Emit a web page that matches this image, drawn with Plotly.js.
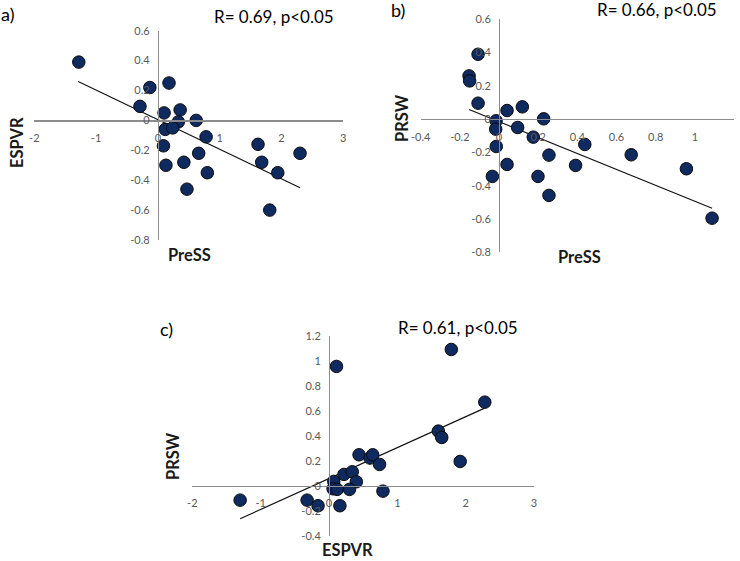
<!DOCTYPE html>
<html><head><meta charset="utf-8">
<script src="https://cdn.plot.ly/plotly-3.0.1.min.js"></script>
<style>html,body{margin:0;padding:0;background:#fff}#chart{width:740px;height:561px}</style>
</head><body><div id="chart"></div>
<script>
// Panel a: PreSS vs ESPVR
const aPreSS = [-1.28,-0.13,0.18,-0.29,0.10,0.36,0.33,0.62,0.12,0.24,0.78,0.09,0.66,0.42,0.13,0.80,0.47,1.62,1.68,1.94,2.30,1.81];
const aESPVR = [0.39,0.22,0.25,0.094,0.05,0.07,-0.01,0.00,-0.06,-0.05,-0.11,-0.17,-0.22,-0.28,-0.30,-0.35,-0.46,-0.16,-0.28,-0.35,-0.22,-0.60];
const aTrendX = [-1.29, 2.30];
const aTrendY = [0.26, -0.45];
// Panel b: PreSS vs PRSW
const bPreSS = [-0.107,-0.153,-0.150,-0.107,0.041,0.119,0.228,-0.015,-0.017,0.095,0.175,-0.014,0.438,0.255,0.041,0.391,0.675,-0.034,0.199,0.255,0.957,1.088];
const bPRSW = [0.39,0.26,0.23,0.096,0.052,0.074,0.002,-0.01,-0.06,-0.05,-0.108,-0.164,-0.152,-0.216,-0.272,-0.278,-0.214,-0.344,-0.344,-0.458,-0.298,-0.595];
const bTrendX = [-0.153, 1.088];
const bTrendY = [0.058, -0.535];
// Panel c: ESPVR vs PRSW
const cESPVR = [-1.30,0.11,1.79,2.28,1.60,1.65,1.92,0.44,0.60,0.64,0.74,0.22,0.34,0.07,0.40,0.06,0.12,0.30,0.79,-0.32,-0.16,0.16];
const cPRSW = [-0.115,0.956,1.092,0.67,0.438,0.387,0.195,0.248,0.222,0.248,0.171,0.091,0.112,0.035,0.032,-0.024,-0.029,-0.029,-0.043,-0.115,-0.16,-0.16];
const cTrendX = [-1.30, 2.27];
const cTrendY = [-0.264, 0.62];

const xTicksA = [-2,-1,0,1,2,3];
const yTicksA = [-0.8,-0.6,-0.4,-0.2,0,0.2,0.4,0.6];
const xTicksB = [-0.4,-0.2,0,0.2,0.4,0.6,0.8,1,1.2];
const yTicksB = [-0.8,-0.6,-0.4,-0.2,0,0.2,0.4,0.6];
const xTicksC = [-2,-1,0,1,2,3];
const yTicksC = [-0.4,-0.2,0,0.2,0.4,0.6,0.8,1,1.2];

const W = 740, H = 561;
const markerStyle = {size: 12.5, color: '#0f2a5e', line: {color: '#0a0a0a', width: 1}};
const trendStyle = {color: '#111', width: 1.2};

const panels = [
  {xs: aPreSS, ys: aESPVR, tx: aTrendX, ty: aTrendY, xr: [-2,3], yr: [-0.8,0.6], xt: xTicksA, yt: yTicksA, px: [34.3,343.3], py: [240,30.7]},
  {xs: bPreSS, ys: bPRSW, tx: bTrendX, ty: bTrendY, xr: [-0.4,1.2], yr: [-0.8,0.6], xt: xTicksB, yt: yTicksB, px: [420.7,734], py: [252.3,19.3]},
  {xs: cESPVR, ys: cPRSW, tx: cTrendX, ty: cTrendY, xr: [-2,3], yr: [-0.4,1.2], xt: xTicksC, yt: yTicksC, px: [192.3,534], py: [535.7,336]}
];

const data = [];
const layout = {
  width: W, height: H, margin: {l:0,r:0,t:0,b:0},
  paper_bgcolor: '#fff', plot_bgcolor: 'rgba(0,0,0,0)', showlegend: false,
  font: {family: 'Lato, "Open Sans", sans-serif', color: '#595959'},
  annotations: []
};
panels.forEach((p, i) => {
  const n = i === 0 ? '' : String(i + 1);
  const xd = [p.px[0] / W, p.px[1] / W];
  const yd = [1 - p.py[0] / H, 1 - p.py[1] / H];
  const xZero = xd[0] + (0 - p.xr[0]) / (p.xr[1] - p.xr[0]) * (xd[1] - xd[0]);
  const yZero = yd[0] + (0 - p.yr[0]) / (p.yr[1] - p.yr[0]) * (yd[1] - yd[0]);
  data.push({x: p.tx, y: p.ty, mode: 'lines', line: trendStyle, xaxis: 'x' + n, yaxis: 'y' + n, hoverinfo: 'skip'});
  data.push({x: p.xs, y: p.ys, mode: 'markers', marker: markerStyle, xaxis: 'x' + n, yaxis: 'y' + n, cliponaxis: false});
  layout['xaxis' + n] = {
    domain: xd, range: p.xr, anchor: 'free', position: yZero,
    showline: true, linecolor: '#8c8c8c', linewidth: 1.2, showgrid: false, zeroline: false,
    tickmode: 'array', tickvals: p.xt, ticktext: p.xt.map(String), ticks: '',
    tickfont: {size: 11, color: '#595959'}, ticklabelstandoff: 7, fixedrange: true
  };
  layout['yaxis' + n] = {
    domain: yd, range: p.yr, anchor: 'free', position: xZero,
    showline: true, linecolor: '#8c8c8c', linewidth: 1.2, showgrid: false, zeroline: false,
    tickmode: 'array', tickvals: p.yt, ticktext: p.yt.map(String), ticks: '',
    tickfont: {size: 11, color: '#595959'}, ticklabelstandoff: 6, fixedrange: true
  };
});

const ann = (text, x, y, opts) => Object.assign({text, x: x / W, y: 1 - y / H, xref: 'paper', yref: 'paper', showarrow: false, xanchor: 'center', yanchor: 'middle'}, opts);
const titleFont = {family: 'Lato, "Open Sans", sans-serif', size: 17, color: '#000'};
const labelFont = {family: 'Lato, "Open Sans", sans-serif', size: 18, color: '#000'};
const axFont = {family: 'Lato, "Open Sans", sans-serif', size: 16.5, color: '#1a1a1a'};
layout.annotations.push(
  ann('a)', 7, 14, {font: labelFont}),
  ann('b)', 398, 10, {font: labelFont}),
  ann('c)', 166, 329, {font: labelFont}),
  ann('R= 0.69, p<0.05', 274, 16, {font: titleFont}),
  ann('R= 0.66, p<0.05', 657, 10, {font: titleFont}),
  ann('R= 0.61, p<0.05', 458, 327, {font: titleFont}),
  ann('<b>PreSS</b>', 189, 255, {font: axFont}),
  ann('<b>ESPVR</b>', 17, 143, {font: axFont, textangle: -90}),
  ann('<b>PreSS</b>', 579, 257, {font: axFont}),
  ann('<b>PRSW</b>', 402, 118, {font: axFont, textangle: -90}),
  ann('<b>ESPVR</b>', 347, 550, {font: axFont}),
  ann('<b>PRSW</b>', 173, 456, {font: axFont, textangle: -90})
);

Plotly.newPlot('chart', data, layout, {staticPlot: true});
</script></body></html>
